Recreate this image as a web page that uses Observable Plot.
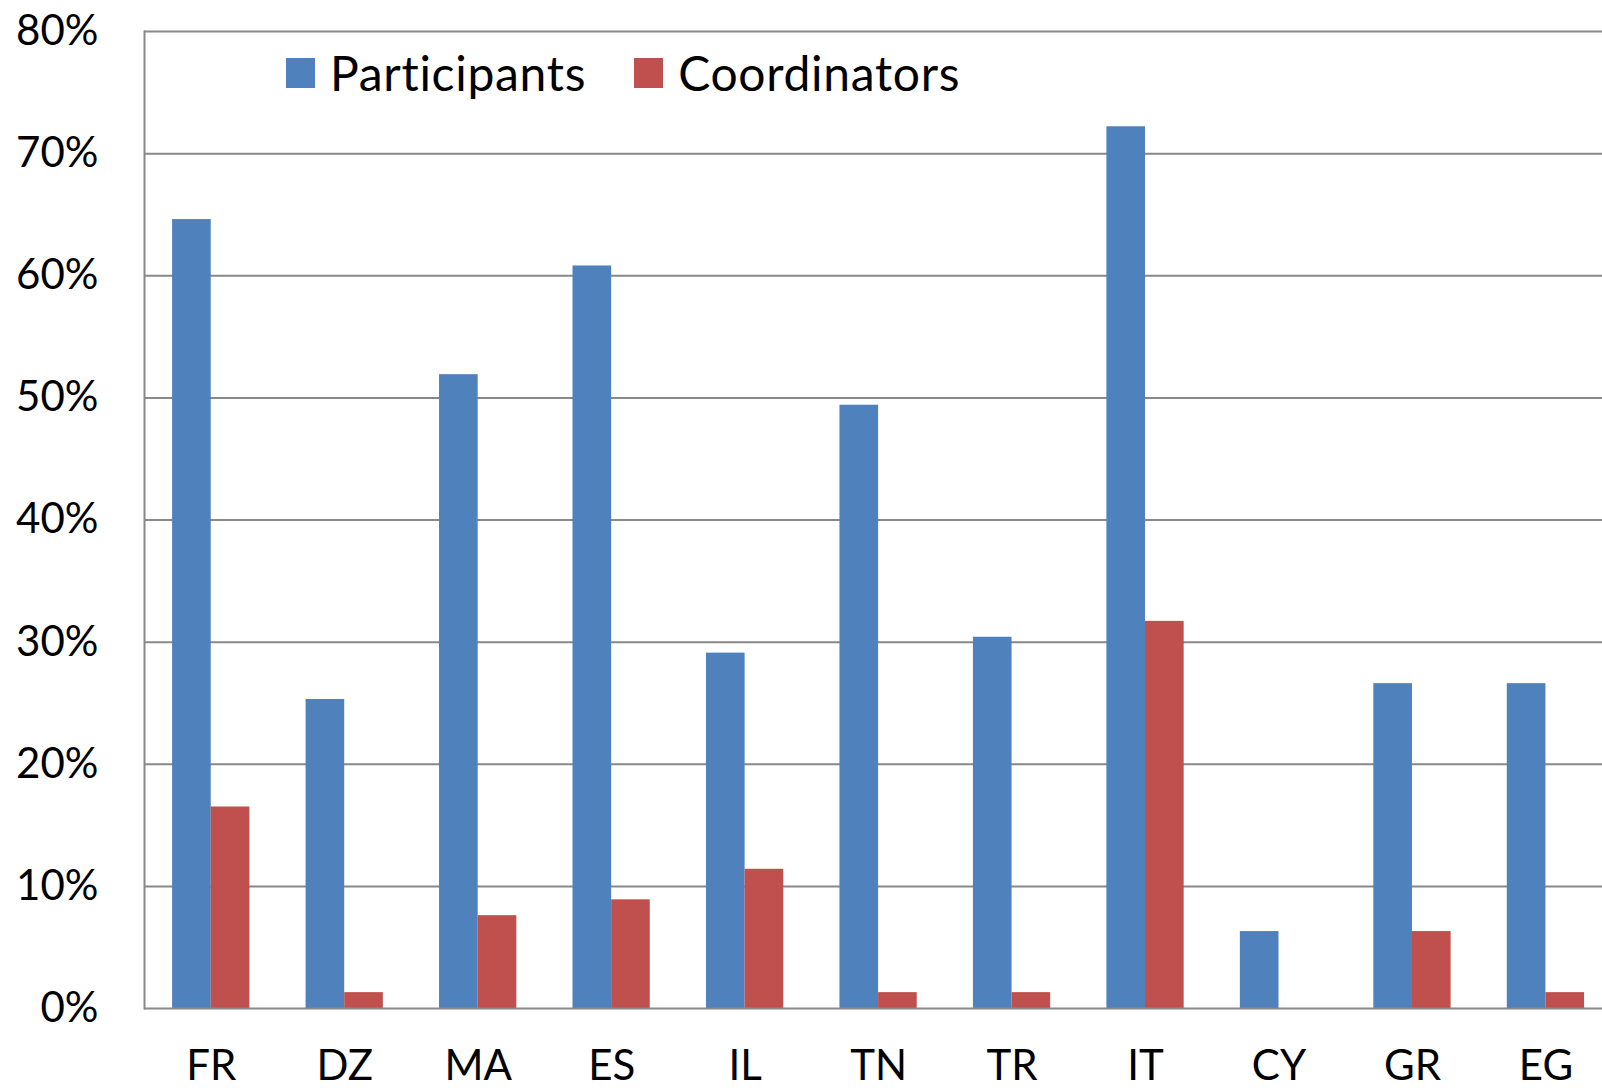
<!DOCTYPE html>
<html>
<head>
<meta charset="utf-8">
<script src="https://cdn.jsdelivr.net/npm/d3@7"></script>
<script src="https://cdn.jsdelivr.net/npm/@observablehq/plot@0.6"></script>
<style>
  html, body { margin: 0; padding: 0; background: #fff; }
  #wrap { position: relative; width: 1602px; height: 1090px; overflow: hidden; font-family: Lato, "Open Sans", sans-serif; }
  #legend { position: absolute; left: 286px; top: 47px; display: flex; align-items: center; font-size: 48px; letter-spacing: 0.7px; color: #000; line-height: 52px; }
  .item { display: flex; align-items: center; }
  .sw { width: 29px; height: 30px; display: inline-block; margin-right: 15px; }
</style>
</head>
<body>
<div id="wrap"><div id="legend"></div></div>
<script>
const countries = ["FR", "DZ", "MA", "ES", "IL", "TN", "TR", "IT", "CY", "GR", "EG"];
const participants = [64.6, 25.3, 51.9, 60.8, 29.1, 49.4, 30.4, 72.2, 6.3, 26.6, 26.6];
const coordinators = [16.5, 1.3, 7.6, 8.9, 11.4, 1.3, 1.3, 31.7, 0, 6.3, 1.3];
const seriesNames = ["Participants", "Coordinators"];
const seriesColors = ["#4F81BD", "#C0504D"];
const yTicks = [0, 10, 20, 30, 40, 50, 60, 70, 80];

const rowsP = countries.map((c, i) => ({country: c, value: participants[i]}));
const rowsC = countries.map((c, i) => ({country: c, value: coordinators[i]}));

const W = 1602, H = 1090, left = 144;
const step = 133.47;
const right = left + step * countries.length;
const pad = 0.421;
const half = step * (1 - pad) / 2;
const grid = "#888888";

const chart = Plot.plot({
  width: W,
  height: H,
  marginLeft: left,
  marginRight: 0,
  marginTop: 31,
  marginBottom: 82,
  style: {fontFamily: "Lato, 'Open Sans', sans-serif", fontSize: "42px", color: "#000", background: "#fff"},
  x: {domain: countries, range: [left, right], paddingInner: pad, paddingOuter: pad / 2, round: false, label: null},
  y: {domain: [0, 80], label: null},
  marks: [
    Plot.ruleY(yTicks.filter(d => d > 0), {stroke: grid, strokeWidth: 2, strokeOpacity: 1}),
    Plot.barY(rowsP, {x: "country", y: "value", fill: seriesColors[0], insetRight: half, insetLeft: 0}),
    Plot.barY(rowsC, {x: "country", y: "value", fill: seriesColors[1], insetLeft: half, insetRight: 0}),
    Plot.ruleY([0], {stroke: grid, strokeWidth: 2}),
    Plot.frame({anchor: "left", stroke: grid, strokeWidth: 2, strokeOpacity: 1}),
    Plot.axisY({ticks: yTicks, tickSize: 0, tickPadding: 46, tickFormat: d => d + "%", fontSize: 42, fill: "#000"}),
    Plot.axisX({tickSize: 0, tickPadding: 42, fontSize: 42, fill: "#000"})
  ]
});
document.getElementById("wrap").prepend(chart);
chart.style.position = "absolute";
chart.style.left = "0px";
chart.style.top = "0px";

const legend = document.getElementById("legend");
seriesNames.forEach((name, i) => {
  const item = document.createElement("div");
  item.className = "item";
  if (i > 0) item.style.marginLeft = "48px";
  const sw = document.createElement("span");
  sw.className = "sw";
  sw.style.background = seriesColors[i];
  const t = document.createElement("span");
  t.textContent = name;
  item.appendChild(sw);
  item.appendChild(t);
  legend.appendChild(item);
});
</script>
</body>
</html>
